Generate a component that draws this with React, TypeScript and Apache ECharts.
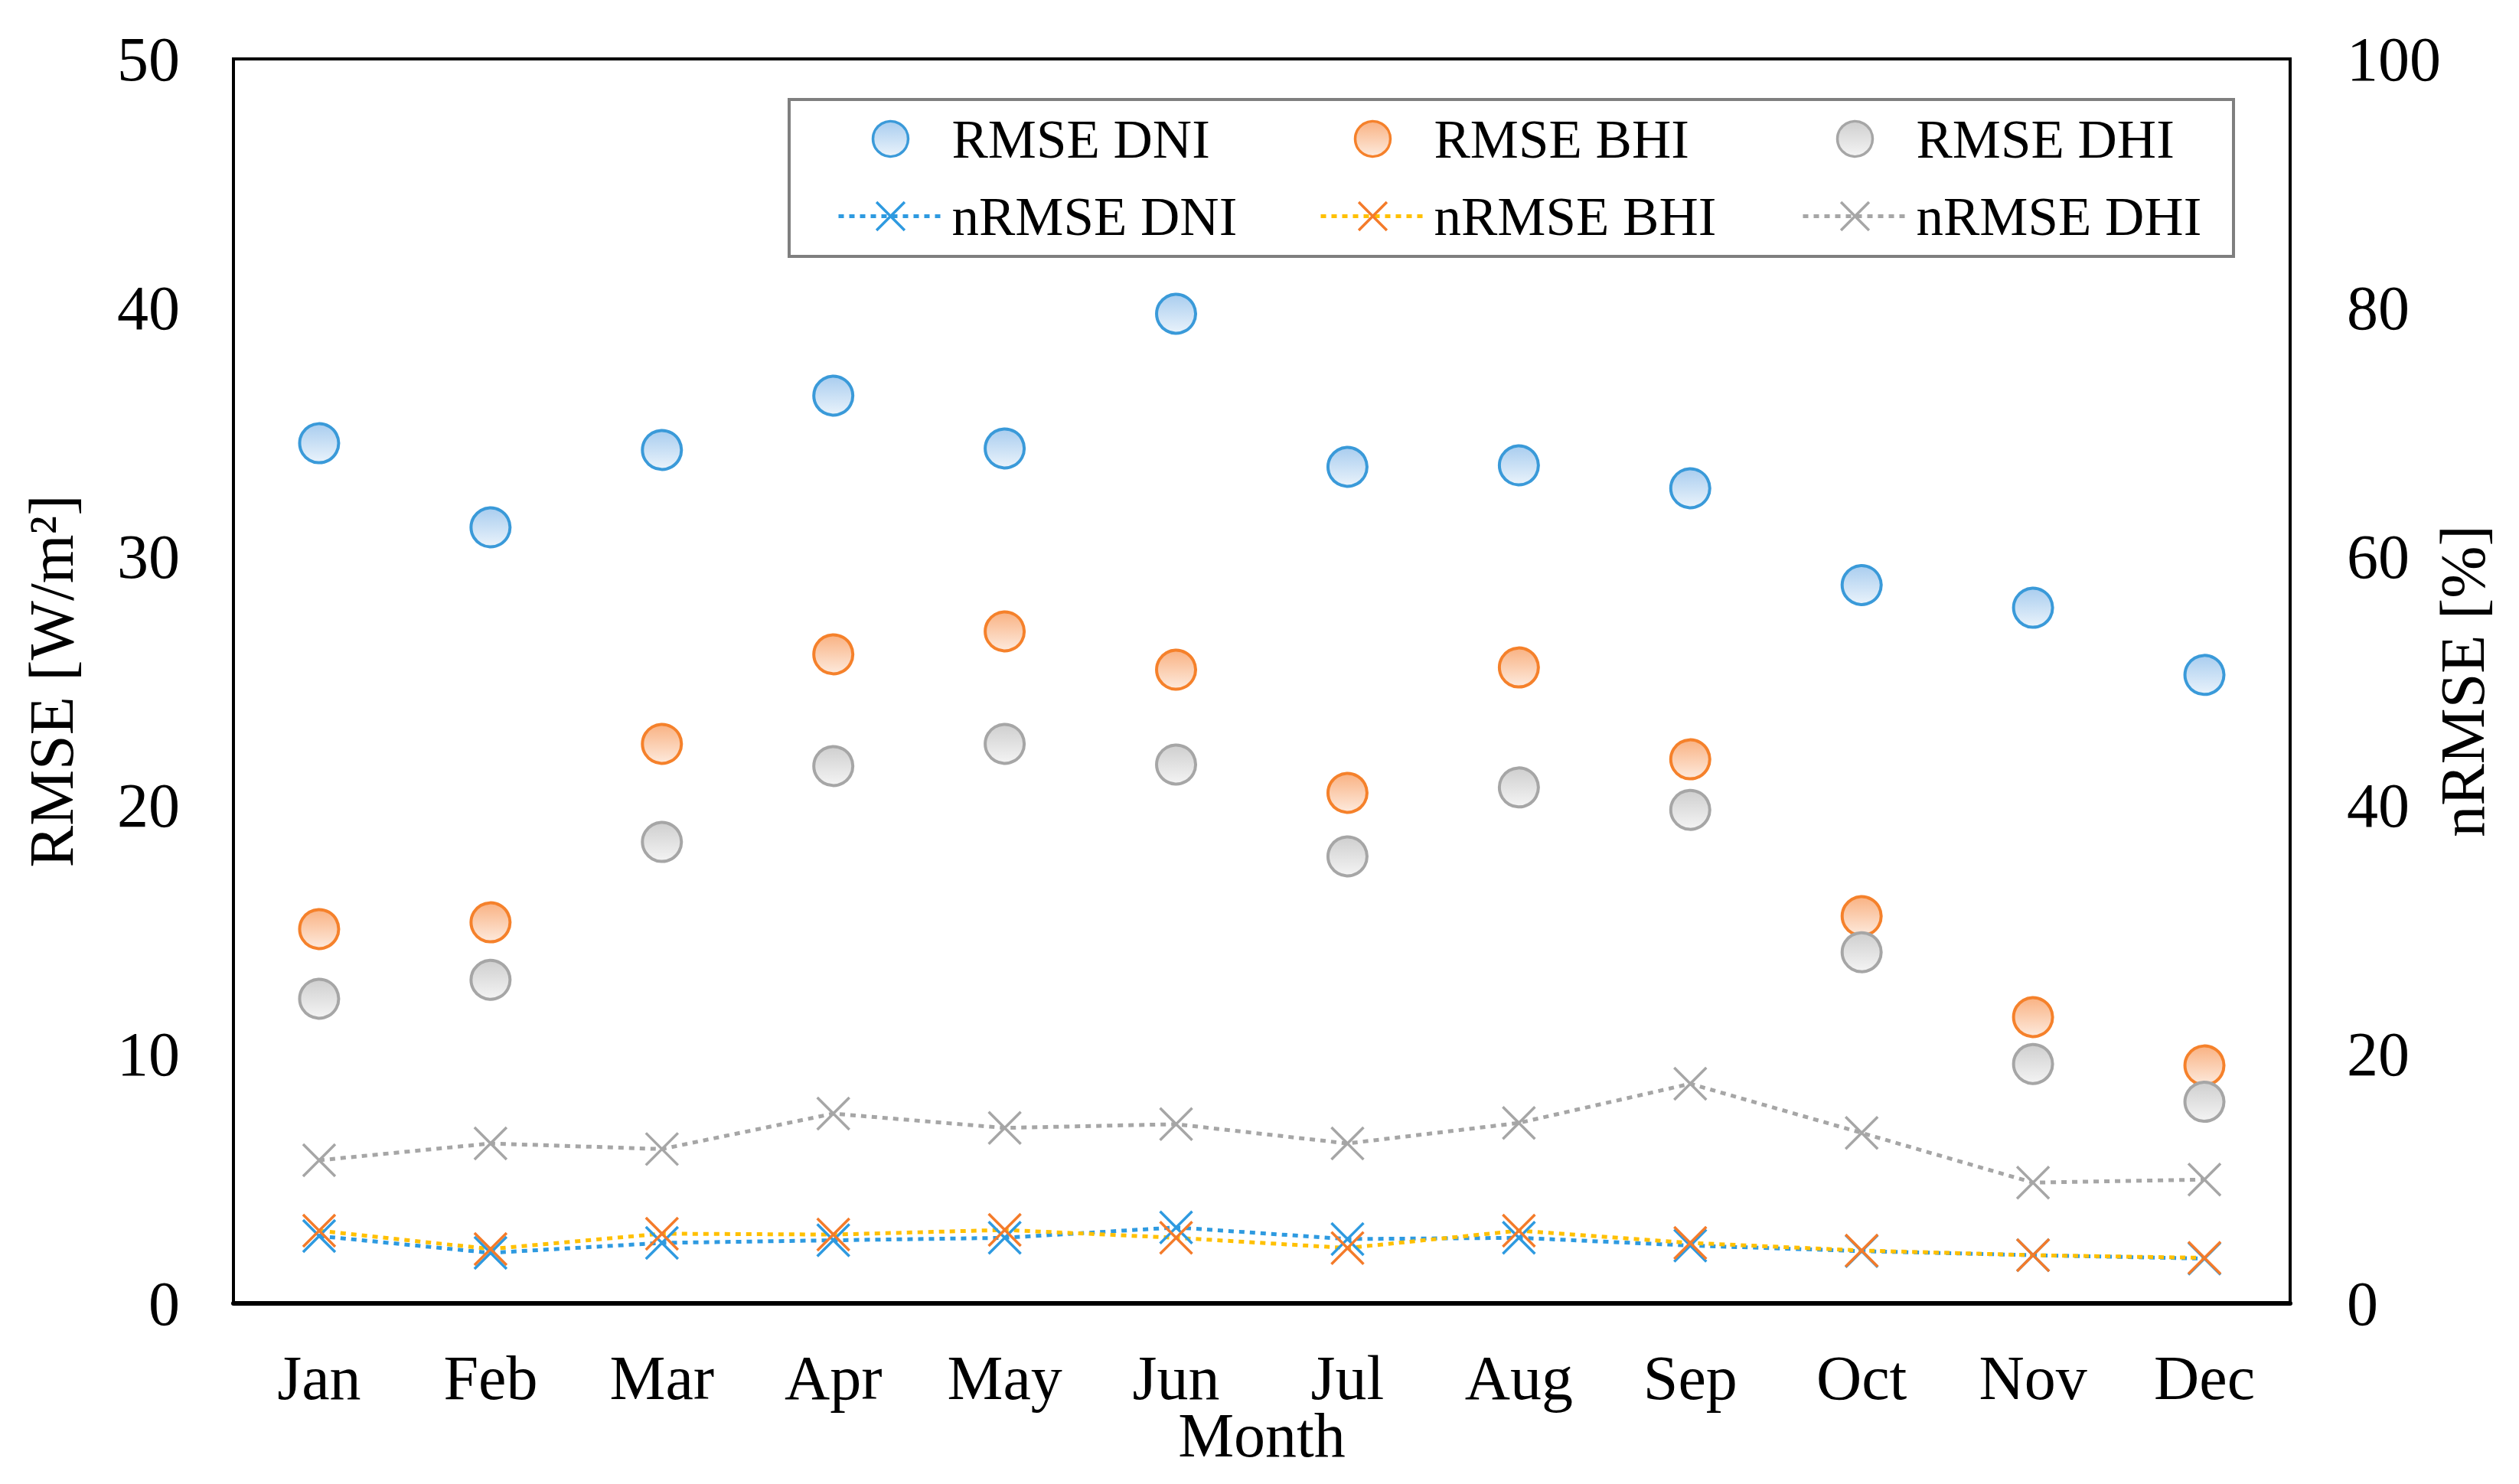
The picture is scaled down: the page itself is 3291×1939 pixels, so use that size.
import React, { useEffect, useRef } from "react";
import * as echarts from "echarts";

const months = ["Jan", "Feb", "Mar", "Apr", "May", "Jun", "Jul", "Aug", "Sep", "Oct", "Nov", "Dec"];
const rmseDNI = [34.56, 31.18, 34.29, 36.47, 34.35, 39.76, 33.61, 33.67, 32.75, 28.86, 27.95, 25.25];
const rmseBHI = [15.04, 15.31, 22.48, 26.08, 27.0, 25.46, 20.51, 25.55, 21.86, 15.56, 11.5, 9.56];
const rmseDHI = [12.24, 13.0, 18.54, 21.59, 22.48, 21.65, 17.96, 20.73, 19.83, 14.11, 9.62, 8.1];
const nrmseDNI = [5.41, 4.06, 4.86, 5.07, 5.27, 6.1, 5.17, 5.27, 4.65, 4.2, 3.87, 3.6];
const nrmseBHI = [5.84, 4.37, 5.6, 5.53, 5.9, 5.27, 4.45, 5.84, 4.86, 4.25, 3.87, 3.66];
const nrmseDHI = [11.5, 12.85, 12.4, 15.25, 14.1, 14.4, 12.85, 14.5, 17.65, 13.7, 9.7, 9.95];
const leftTicks = { min: 0, max: 50, interval: 10 };
const rightTicks = { min: 0, max: 100, interval: 20 };

const FONT = "Liberation Serif";
const XPATH = "path://M0,0L10,10M10,0L0,10";

function grad(top: string, bottom: string) {
  return new echarts.graphic.LinearGradient(0, 0, 0, 1, [
    { offset: 0, color: top },
    { offset: 1, color: bottom },
  ]);
}

export default function App() {
  const ref = useRef<HTMLDivElement>(null);
  useEffect(() => {
    document.body.style.margin = "0";
    const chart = echarts.init(ref.current!, null, { renderer: "svg" });
    const scatter = (name: string, data: number[], border: string, top: string, bottom: string) => ({
      name,
      type: "scatter",
      data,
      yAxisIndex: 0,
      symbol: "circle",
      symbolSize: 51,
      itemStyle: { color: grad(top, bottom), borderColor: border, borderWidth: 4, opacity: 1 },
      z: 3,
    });
    const line = (name: string, data: number[], lineColor: string, markColor: string) => ({
      name,
      type: "line",
      data,
      yAxisIndex: 1,
      symbol: XPATH,
      symbolSize: 42,
      showAllSymbol: true,
      lineStyle: { color: lineColor, width: 5, type: [7, 7] },
      itemStyle: { color: markColor, borderColor: markColor, borderWidth: 3.5 },
      z: 4,
    });
    const legendBase = {
      orient: "vertical",
      top: 146,
      itemWidth: 136,
      itemHeight: 46,
      itemGap: 30,
      padding: 0,
      z: 20,
      textStyle: { fontFamily: FONT, fontSize: 71, color: "#000", padding: [0, 0, 0, 7] },
      itemStyle: { borderWidth: 3.5 },
      lineStyle: { width: 5 },
      selectedMode: false,
    };
    const axisText = { fontFamily: FONT, fontSize: 82, color: "#000" };
    chart.setOption({
      animation: false,
      backgroundColor: "#fff",
      textStyle: { fontFamily: FONT },
      grid: { left: 305, right: 299, top: 77, bottom: 236, show: true, borderColor: "#000", borderWidth: 4, backgroundColor: "transparent" },
      legend: [
        { ...legendBase, left: 1093, data: ["RMSE DNI", "nRMSE DNI"] },
        { ...legendBase, left: 1723, data: ["RMSE BHI", "nRMSE BHI"] },
        { ...legendBase, left: 2353, data: ["RMSE DHI", "nRMSE DHI"] },
      ],
      graphic: [
        {
          type: "rect",
          shape: { x: 1031, y: 130, width: 1887, height: 205 },
          style: { fill: "#fff", stroke: "#7f7f7f", lineWidth: 4 },
          z: 1,
        },
      ],
      xAxis: {
        type: "category",
        data: months,
        boundaryGap: true,
        axisLine: { show: true, lineStyle: { color: "#000", width: 6 } },
        axisTick: { show: false },
        axisLabel: { ...axisText, margin: 56 },
        name: "Month",
        nameLocation: "middle",
        nameGap: 131,
        nameMoveOverlap: false,
        nameTextStyle: axisText,
        splitLine: { show: false },
      },
      yAxis: [
        {
          type: "value",
          ...leftTicks,
          position: "left",
          axisLine: { show: true, lineStyle: { color: "#000", width: 4 } },
          axisTick: { show: false },
          splitLine: { show: false },
          axisLabel: { ...axisText, margin: 70 },
          name: "RMSE [W/m²]",
          nameLocation: "middle",
          nameRotate: 90,
          nameGap: 197,
          nameMoveOverlap: false,
          nameTextStyle: axisText,
        },
        {
          type: "value",
          ...rightTicks,
          position: "right",
          axisLine: { show: true, lineStyle: { color: "#000", width: 4 } },
          axisTick: { show: false },
          splitLine: { show: false },
          axisLabel: { ...axisText, margin: 74 },
          name: "nRMSE [%]",
          nameLocation: "middle",
          nameRotate: 90,
          nameGap: 184,
          nameMoveOverlap: false,
          nameTextStyle: axisText,
        },
      ],
      series: [
        scatter("RMSE DNI", rmseDNI, "#3a9ad9", "#a9cdef", "#eaf3fb"),
        scatter("RMSE BHI", rmseBHI, "#f5812b", "#f9b283", "#fdeadd"),
        scatter("RMSE DHI", rmseDHI, "#a6a6a6", "#cfcfcf", "#f4f4f4"),
        line("nRMSE DHI", nrmseDHI, "#a6a6a6", "#a6a6a6"),
        line("nRMSE DNI", nrmseDNI, "#2e9ae0", "#2e9ae0"),
        line("nRMSE BHI", nrmseBHI, "#ffc000", "#f47b2a"),
      ],
    });
    return () => chart.dispose();
  }, []);
  return <div ref={ref} style={{ width: 3291, height: 1939 }} />;
}
